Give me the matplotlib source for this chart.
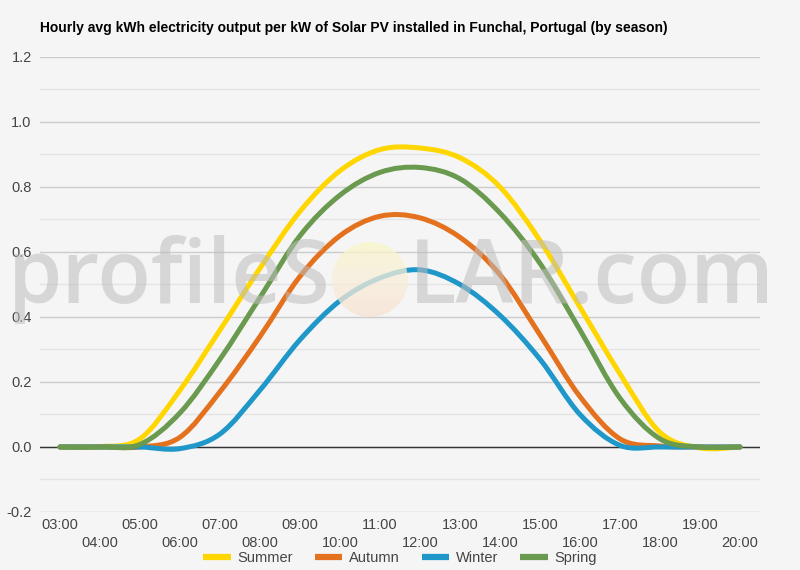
import numpy as np
import matplotlib
matplotlib.use("Agg")
import matplotlib.pyplot as plt
from matplotlib.path import Path
from matplotlib.patches import PathPatch, Circle
from matplotlib.lines import Line2D
from matplotlib.ticker import MultipleLocator

plt.rcParams['font.family'] = ['Liberation Sans', 'DejaVu Sans']

# hourly values
hours = ['03:00', '04:00', '05:00', '06:00', '07:00', '08:00', '09:00', '10:00', '11:00',
         '12:00', '13:00', '14:00', '15:00', '16:00', '17:00', '18:00', '19:00', '20:00']
summer = [0, 0.001, 0.025, 0.175, 0.36, 0.55, 0.725, 0.85, 0.915, 0.92, 0.89, 0.80, 0.635, 0.43, 0.225, 0.045, -0.003, 0]
autumn = [0, 0, 0, 0.03, 0.17, 0.34, 0.525, 0.65, 0.71, 0.705, 0.645, 0.53, 0.345, 0.155, 0.025, 0.003, 0, 0]
winter = [0, 0, 0, -0.005, 0.04, 0.175, 0.33, 0.45, 0.52, 0.545, 0.50, 0.405, 0.27, 0.10, 0.005, 0, 0, 0]
spring = [0, 0, 0.008, 0.105, 0.27, 0.46, 0.65, 0.775, 0.845, 0.86, 0.825, 0.72, 0.565, 0.36, 0.15, 0.025, 0, 0]

series = [('Summer', summer, '#FFD600'),
          ('Autumn', autumn, '#E3711E'),
          ('Winter', winter, '#1F97C9'),
          ('Spring', spring, '#6A9A4F')]

bg = '#f5f5f5'
fig = plt.figure(figsize=(8, 5.7), dpi=100, facecolor=bg)
ax = fig.add_axes([0.05, 0.1018, 0.9, 0.7982], facecolor=bg)


def smooth_path(xs, ys):
    # catmull-rom style bezier through the data points
    pts = np.column_stack([xs, ys]).astype(float)
    ext = np.vstack([pts[0], pts, pts[-1]])
    verts = [pts[0]]
    codes = [Path.MOVETO]
    for i in range(len(pts) - 1):
        p0, p1, p2, p3 = ext[i], ext[i + 1], ext[i + 2], ext[i + 3]
        verts += [p1 + (p2 - p0) / 6, p2 - (p3 - p1) / 6, p2]
        codes += [Path.CURVE4] * 3
    return Path(verts, codes)


x = np.arange(len(hours))
handles = []
for name, vals, col in series:
    ax.add_patch(PathPatch(smooth_path(x, vals), fill=False, edgecolor=col, lw=3.6,
                           capstyle='round', joinstyle='round', zorder=3))
    handles.append(Line2D([], [], color=col, lw=4.5, solid_capstyle='butt'))

ax.set_xlim(-0.5, len(hours) - 0.5)
ax.set_ylim(-0.2, 1.2)
ax.yaxis.set_major_locator(MultipleLocator(0.2))
ax.yaxis.set_minor_locator(MultipleLocator(0.1))
ax.yaxis.set_major_formatter(lambda v, p: f'{v:.1f}')
ax.grid(which='major', axis='y', color='#cccccc', lw=1, zorder=0)
ax.grid(which='minor', axis='y', color='#e4e4e4', lw=1, zorder=0)
ax.axhline(0, color='#333333', lw=1, zorder=2)

# alternating two-row hour labels
ax.set_xticks(x[::2], hours[::2])
ax.set_xticks(x[1::2], hours[1::2], minor=True)
ax.tick_params(axis='x', which='major', length=0, pad=4, labelsize=10.5, labelcolor='#444444')
ax.tick_params(axis='x', which='minor', length=0, pad=17, labelsize=10.5, labelcolor='#444444')
ax.tick_params(axis='y', which='both', length=0, pad=6, labelsize=10.5, labelcolor='#444444')
for s in ax.spines.values():
    s.set_visible(False)

fig.text(0.05, 1 - 28 / 570, 'Hourly avg kWh electricity output per kW of Solar PV installed in Funchal, Portugal (by season)',
         fontsize=10, fontweight='bold', va='center', ha='left', color='#000000')

fig.legend(handles, [s[0] for s in series], loc='center', bbox_to_anchor=(0.5, 1 - 558 / 570),
           ncol=4, frameon=False, fontsize=10.5, handlelength=1.9, handletextpad=0.45,
           columnspacing=1.5, labelcolor='#444444')

# watermark
wm = dict(fontsize=63, family='Open Sans', fontweight='semibold', color='#bdbdbd', alpha=0.55,
          va='baseline', zorder=10)
fig.text(331 / 800, 1 - 303 / 570, 'profileS', ha='right', **wm)
fig.text(409 / 800, 1 - 303 / 570, 'LAR.com', ha='left', **wm)

sun_ax = fig.add_axes([332 / 800, 1 - 317 / 570, 76 / 800, 75 / 570], zorder=5)
sun_ax.axis('off')
grad = np.linspace(0, 1, 100)[:, None] * np.ones((1, 10))
im = sun_ax.imshow(grad, cmap=matplotlib.colors.LinearSegmentedColormap.from_list('sun', ['#f9f6c6', '#f9eedb', '#f7e2d0']),
                   extent=[0, 1, 0, 1], aspect='auto', alpha=0.75, origin='upper')
clip = Circle((0.5, 0.5), 0.5, transform=sun_ax.transData)
im.set_clip_path(clip)
sun_ax.set_xlim(0, 1)
sun_ax.set_ylim(0, 1)
sun_ax.patch.set_alpha(0)

fig.savefig('out.png', dpi=100, facecolor=bg)
